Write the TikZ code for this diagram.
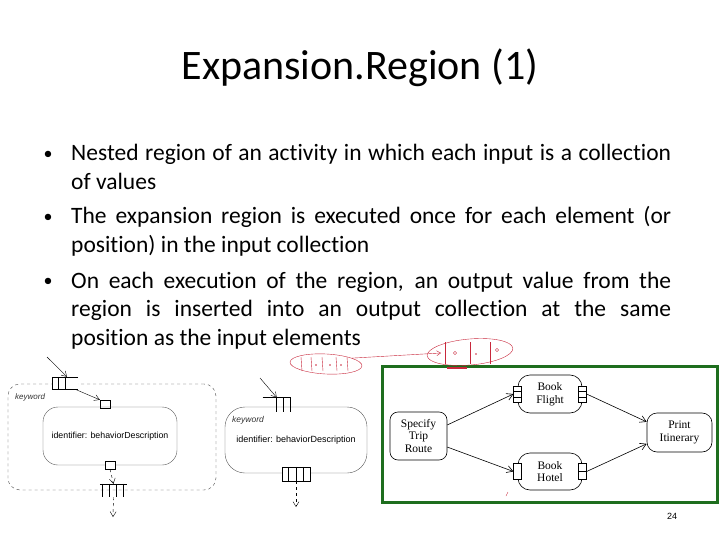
\documentclass[tikz,border=0pt]{standalone}
\usepackage{fontspec}
\setmainfont{Carlito}[Ligatures=NoCommon]
\newfontfamily\umlfont{Liberation Sans}
\newfontfamily\serfont{Liberation Serif}
\usetikzlibrary{positioning,arrows.meta,shapes.geometric,calc}
\definecolor{cframe}{HTML}{1E6E1E}
\definecolor{cink}{HTML}{C8283C}
\hyphenpenalty=10000
\tikzset{
  bul/.style={font=\fontsize{23.5}{28.5}\selectfont, text width=600pt, align=justify, anchor=base west, inner sep=0pt},
  dot/.style={font=\fontsize{18}{20}\selectfont, inner sep=0pt},
  act/.style={draw=gray!70!black, rounded corners=15pt, thin, font=\umlfont\fontsize{8.8}{10}\selectfont},
  keyw/.style={font=\umlfont\itshape\fontsize{8.5}{10}\selectfont, text=gray!40!black, anchor=west, inner sep=0pt},
  pinbox/.style={draw, thin, fill=white, minimum width=10pt, minimum height=8pt, inner sep=0pt},
  coll/.style={minimum width=28pt, minimum height=14pt, inner sep=0pt},
  flow/.style={-{Straight Barb[length=5pt,width=6pt]}, thin},
  dflow/.style={flow, dashed},
  trip/.style={draw, semithick, rounded corners=8pt, align=center, font=\serfont\fontsize{11.5}{12.5}\selectfont, inner sep=0pt},
  tpin/.style={draw, semithick, fill=white, minimum width=8pt, minimum height=16pt, inner sep=0pt},
  tflow/.style={-{Straight Barb[length=6pt,width=7pt]}, semithick},
  scrib/.style={draw=cink, ellipse, thin, inner sep=0pt},
}
\begin{document}
\begin{tikzpicture}[x=1pt, y=-1pt]
  \useasboundingbox (0,0) rectangle (720,540);
  % title and bullets
  \node[font=\fontsize{42}{48}\selectfont] (title) at (360,68) {Expansion.Region (1)};
  \foreach \y in {155,218,282} \node[dot] at (48,\y) {\textbullet};
  \node[bul] (b1) at (71,161) {Nested region of an activity in which each input is a collection\linebreak of values};
  \node[bul] (b2) at (71,224) {The expansion region is executed once for each element (or\linebreak position) in the input collection};
  \node[bul] (b3) at (71,288) {On each execution of the region, an output value from the\linebreak region is inserted into an output collection at the same\linebreak position as the input elements};

  % left: region with dashed border
  \node[draw=black!75, dashed, rounded corners=12pt, minimum width=208pt, minimum height=106pt] (regA) at (112,437) {};
  \node[keyw, font=\umlfont\itshape\fontsize{8}{9}\selectfont] (keyA) at (15,397) {keyword};
  \node[coll, fill=white, minimum width=26pt, minimum height=12pt] (inA) at (65,383) {};
  \draw (inA.north east) -- (inA.north west) -- (inA.south west) -- (inA.south east);
  \foreach \i in {6.5,13} \draw ($(inA.north west)+(\i,0)$) -- ($(inA.south west)+(\i,0)$);
  \node[pinbox] (pinA) at (105,404) {};
  \node[act, minimum width=134pt, minimum height=58pt] (boxA) at (110,436) {identifier: behaviorDescription};
  \node[pinbox] (poutA) at (110,465) {};
  \node[coll, minimum width=27pt, minimum height=13pt] (outA) at (113.5,490.5) {};
  \draw (outA.north west) -- (outA.north east);
  \foreach \i in {2,9,16,23} \draw ($(outA.north west)+(\i,0)$) -- ($(outA.south west)+(\i,0)$);
  \coordinate (srcA) at (47,357);
  \coordinate (endA) at (113,517);
  \draw[flow] (srcA) -- ($(inA.north)+(2,0)$);
  \draw[flow] ($(inA.south)+(10,0)$) -- (pinA.north west);
  \draw[dflow] (poutA.south) -- (outA.north);
  \draw[dflow] (outA.south) -- (endA);

  % middle: same region drawn compact
  \node[act, rounded corners=20pt, minimum width=142pt, minimum height=66pt, font=\umlfont\fontsize{9}{10}\selectfont] (boxB) at (296,440) {\raisebox{-3pt}{identifier: behaviorDescription}};
  \node[keyw] (keyB) at (232,420) {keyword};
  \node[coll] (inB) at (276.7,404.7) {};
  \draw (inB.north west) -- (inB.north east);
  \foreach \i in {13.3,20.6,27.3} \draw ($(inB.north west)+(\i,0)$) -- ($(inB.south west)+(\i,0)$);
  \node[coll, draw, fill=white] (outB) at (296,474) {};
  \foreach \i in {6,14,21} \draw ($(outB.north west)+(\i,0)$) -- ($(outB.south west)+(\i,0)$);
  \coordinate (srcB) at (260,378);
  \coordinate (endB) at (296,507);
  \draw[flow] (srcB) -- (inB.north);
  \draw[dflow] (outB.south) -- (endB);

  % right: trip example in green frame
  \node[draw=cframe, line width=3pt, minimum width=334.5pt, minimum height=136pt] (frame) at (549.75,434.5) {};
  \node[trip, minimum width=57pt, minimum height=48pt] (spec) at (418.5,436) {Specify\\Trip\\Route};
  \node[trip, rounded corners=12pt, minimum width=64pt, minimum height=38pt] (flight) at (550,394) {Book\\Flight};
  \node[trip, rounded corners=12pt, minimum width=64pt, minimum height=37pt] (hotel) at (550,471.5) {Book\\Hotel};
  \node[trip, rounded corners=10pt, minimum width=65pt, minimum height=39pt] (print) at (679.5,432.5) {Print\\Itinerary};
  \node[tpin] (fin) at (flight.west) {};
  \node[tpin] (fout) at (flight.east) {};
  \node[tpin] (hin) at (hotel.west) {};
  \node[tpin] (hout) at (hotel.east) {};
  \foreach \p in {fin,fout} {
    \draw[semithick] ($(\p.north west)!0.33!(\p.south west)$) -- ($(\p.north east)!0.33!(\p.south east)$);
    \draw[semithick] ($(\p.north west)!0.67!(\p.south west)$) -- ($(\p.north east)!0.67!(\p.south east)$);
  }
  \draw[semithick] (hout.west) -- (hout.east);
  \draw[tflow] (spec.21) -- (fin.west);
  \draw[tflow] (spec.-21) -- (hin.west);
  \draw[tflow] (fout.east) -- (print.162);
  \draw[tflow] (hout.east) -- (print.199);

  % handwritten marks
  \node[scrib, minimum width=72pt, minimum height=20pt, rotate=-3] (scrL) at (326,364) {};
  \foreach \x in {301,311,322,336,347} \draw[cink] (\x,357) -- (\x+1,371);
  \foreach \x in {316,330,341} \fill[cink] (\x,365) circle (0.8);
  \node[scrib, minimum width=86pt, minimum height=26pt, rotate=5] (scrR) at (470,352) {};
  \foreach \x in {445,470,490} \draw[cink] (\x,342) -- (\x,364);
  \draw[cink] (455,353) circle (1.6);
  \fill[cink] (476,354) circle (0.9);
  \draw[cink] (497,350) circle (1.6);
  \coordinate (inkEnd) at (441,353);
  \draw[cink, -{Straight Barb[length=4pt,width=5pt]}] (scrL.north east) -- (inkEnd);
  \draw[cink, line width=1.5pt] (447,368) -- (467,368);
  \draw[cink] (506,496) -- (508,492);

  \node[font=\umlfont\fontsize{9}{10}\selectfont] (pg) at (672,516) {24};
\end{tikzpicture}
\end{document}
